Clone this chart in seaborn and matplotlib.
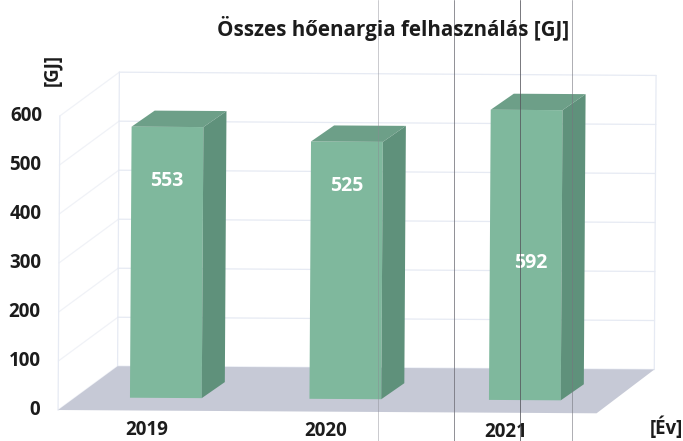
import matplotlib
matplotlib.use("Agg")
import matplotlib.pyplot as plt
from matplotlib.patches import Polygon
from matplotlib.transforms import Affine2D
import pandas as pd
import seaborn as sns

# ── Data ──────────────────────────────────────────────────────────────────────
years = ["2019", "2020", "2021"]
values = [553, 525, 592]
y_ticks = [0, 100, 200, 300, 400, 500, 600]

# where the value labels sit inside the bars (data units)
label_heights = [443, 435, 280]
label_shift = [0.0, 0.0, 0.03]

# ── Colours ───────────────────────────────────────────────────────────────────
FRONT = "#7fb89d"
TOP = "#6d9f88"
SIDE = "#5f917b"
FLOOR = "#c6c9d6"
GRID = "#e6eaf3"
GRID_SIDE = "#f0f2f7"
TEXT = "#1c1c1c"

# ── Figure: one axes over the whole page, 3D look is drawn by hand ────────────
sns.set_theme(style="white")
plt.rcParams["font.family"] = ["Open Sans", "DejaVu Sans"]

fig = plt.figure(figsize=(6.83, 4.41), dpi=100)
ax = fig.add_axes([0, 0, 1, 1])

df = pd.DataFrame({"year": years, "value": values})
sns.barplot(data=df, x="year", y="value", color=FRONT, saturation=1, width=0.4, linewidth=0, ax=ax, zorder=5)
bars = list(ax.patches)

ax.set_xlim(-0.93, 2.875)
ax.set_ylim(-85.7, 814)
ax.axis("off")
ax.set_autoscale_on(False)

# the source is a slightly crooked scan
tilted = ax.transData + Affine2D().rotate_deg_around(341, 220, -0.35)
for bar in bars:
    bar.set_transform(tilted)

# depth of the bars and of the chart box
bar_dx, bar_dy = 0.128, 33
box_left, box_right = -0.60, 2.40
wall_left, wall_right = -0.27, 2.72
front_base, back_base = -26, 64

# ── Walls and gridlines ───────────────────────────────────────────────────────
ax.add_patch(Polygon(
    [(box_left, front_base), (box_right, front_base), (wall_right, back_base), (wall_left, back_base)],
    facecolor=FLOOR, edgecolor="none", zorder=2, transform=tilted,
))
for v in y_ticks:
    ax.plot([box_left, wall_left], [v + front_base, v + back_base], color=GRID_SIDE, lw=0.9, zorder=1, transform=tilted)
    ax.plot([wall_left, wall_right], [v + back_base, v + back_base], color=GRID, lw=0.9, zorder=1, transform=tilted)
for x, base in [(box_left, front_base), (wall_left, back_base), (wall_right, back_base)]:
    ax.plot([x, x], [base, base + y_ticks[-1]], color=GRID, lw=0.9, zorder=1, transform=tilted)

# ── Bar tops and sides ────────────────────────────────────────────────────────
for bar in bars:
    x0 = bar.get_x()
    x1 = x0 + bar.get_width()
    h = bar.get_height()
    ax.add_patch(Polygon(
        [(x0, h), (x1, h), (x1 + bar_dx, h + bar_dy), (x0 + bar_dx, h + bar_dy)],
        facecolor=TOP, edgecolor="none", zorder=5, transform=tilted,
    ))
    ax.add_patch(Polygon(
        [(x1, 0), (x1 + bar_dx, bar_dy), (x1 + bar_dx, h + bar_dy), (x1, h)],
        facecolor=SIDE, edgecolor="none", zorder=5, transform=tilted,
    ))

# ── Text ──────────────────────────────────────────────────────────────────────
for i, v in enumerate(values):
    ax.text(i + label_shift[i], label_heights[i], str(v), color="white", fontsize=14, fontweight="bold",
            ha="center", va="center", zorder=7, transform=tilted)

for i, year in enumerate(years):
    ax.text(i - 0.106, -66, year, color=TEXT, fontsize=13.5, fontweight="bold",
            ha="center", va="center", transform=tilted)

for v in y_ticks:
    ax.text(-0.70, v + front_base, str(v), color=TEXT, fontsize=13.5, fontweight="bold",
            ha="right", va="center", transform=tilted)

fig.text(0.575, 0.936, "Összes hőenargia felhasználás [GJ]", color=TEXT, fontsize=14.9, fontweight="bold",
         ha="center", va="center")
fig.text(0.077, 0.841, "[GJ]", color=TEXT, fontsize=13.5, fontweight="bold", rotation=90,
         ha="center", va="center")
fig.text(0.975, 0.03, "[Év]", color=TEXT, fontsize=13.5, fontweight="bold", ha="center", va="center")

# scanner streaks running down the page
for x, shade, alpha in [(378, "#8a8a92", 0.45), (454, "#6a6a72", 0.75), (520, "#55555c", 0.8), (572, "#77777f", 0.6)]:
    ax.axvline((x - 167) / 179.5, color=shade, alpha=alpha, lw=0.7, zorder=8)

fig.savefig("out.png", dpi=100)
